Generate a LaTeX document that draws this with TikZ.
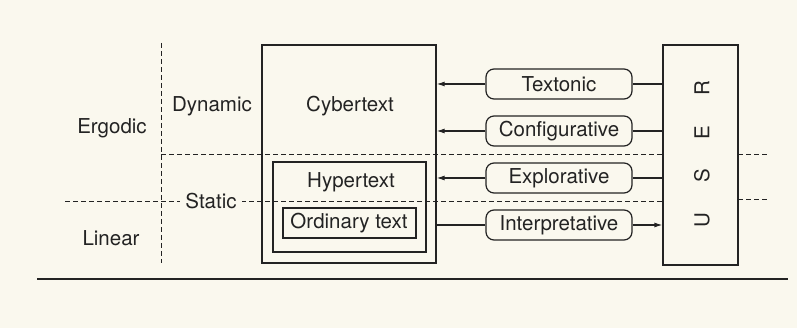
\documentclass[tikz,border=0pt]{standalone}
\usepackage{fontspec}
\setmainfont{TeX Gyre Heros}
\usetikzlibrary{arrows.meta}
\definecolor{paper}{RGB}{250,248,238}
\definecolor{ink}{RGB}{35,35,35}
\begin{document}
\begin{tikzpicture}[x=1pt,y=-1pt,
  every node/.style={font=\fontsize{20.5}{22}\selectfont, text=ink},
  boxline/.style={draw=ink, line width=1.2pt},
  sqbox/.style={boxline, rectangle, inner sep=0pt},
  rbox/.style={boxline, rounded corners=8pt, minimum width=146pt, minimum height=30pt, inner sep=0pt, fill=paper},
  dline/.style={draw=ink, line width=0.9pt, dash pattern=on 5pt off 3pt},
  conn/.style={draw=ink, line width=1.2pt},
  arr/.style={conn, -{Latex[length=8pt,width=5pt]}},
  lab/.style={inner sep=1pt}
]
\fill[paper] (0,0) rectangle (797,328);
\useasboundingbox (0,0) rectangle (797,328);

% boxes
\node[sqbox, minimum width=174pt, minimum height=218pt] (cyber) at (349,154) {};
\node[sqbox, minimum width=153pt, minimum height=90pt] (hyper) at (349.5,207) {};
\node[sqbox, minimum width=133pt, minimum height=30pt] (ord) at (349.5,223) {};
\node[sqbox, minimum width=75pt, minimum height=220pt] (user) at (700.5,155) {};

% dashed lines
\coordinate (vt) at (161,43);
\coordinate (vb) at (161,263);
\draw[dline] (vt) -- (vb);
\coordinate (u1) at (161,154);
\coordinate (u2) at (663,154);
\draw[dline] (u1) -- (u2);
\coordinate (u3) at (738,154);
\coordinate (u4) at (767,154);
\draw[dline] (u3) -- (u4);
\coordinate (l1) at (65,201);
\coordinate (l2) at (663,201);
\draw[dline] (l1) -- (l2);
\coordinate (l3) at (738,199);
\coordinate (l4) at (767,199);
\draw[dline] (l3) -- (l4);

% labels
\node[lab] (ergodic) at (112,128) {Ergodic};
\node[lab] (linear) at (111,238) {Linear};
\node[lab] (dynamic) at (212,106) {Dynamic};
\node[lab, fill=paper, inner xsep=5pt] (static) at (211,201) {Static};
\node[lab] (cybert) at (350,106) {Cybertext};
\node[lab] (hypert) at (351,182) {Hypertext};
\node[lab] (ordt) at (349,223) {Ordinary text};
\node[lab, rotate=90] (usert) at (702,154) {U\hspace{30pt}S\hspace{30pt}E\hspace{30pt}R};

% rounded boxes
\node[rbox] (tex) at (559,84) {Textonic};
\node[rbox] (conf) at (559,131) {Configurative};
\node[rbox] (expl) at (559,178) {Explorative};
\node[rbox] (interp) at (559,225) {Interpretative};

% connectors
\draw[conn] (user.west |- tex) -- (tex.east);
\draw[arr] (tex.west) -- (cyber.east |- tex);
\draw[conn] (user.west |- conf) -- (conf.east);
\draw[arr] (conf.west) -- (cyber.east |- conf);
\draw[conn] (user.west |- expl) -- (expl.east);
\draw[arr] (expl.west) -- (cyber.east |- expl);
\draw[conn] (cyber.east |- interp) -- (interp.west);
\draw[arr] (interp.east) -- (user.west |- interp);

% bottom rule
\coordinate (b1) at (37,279);
\coordinate (b2) at (788,279);
\draw[draw=ink, line width=2.4pt] (b1) -- (b2);
\end{tikzpicture}
\end{document}
